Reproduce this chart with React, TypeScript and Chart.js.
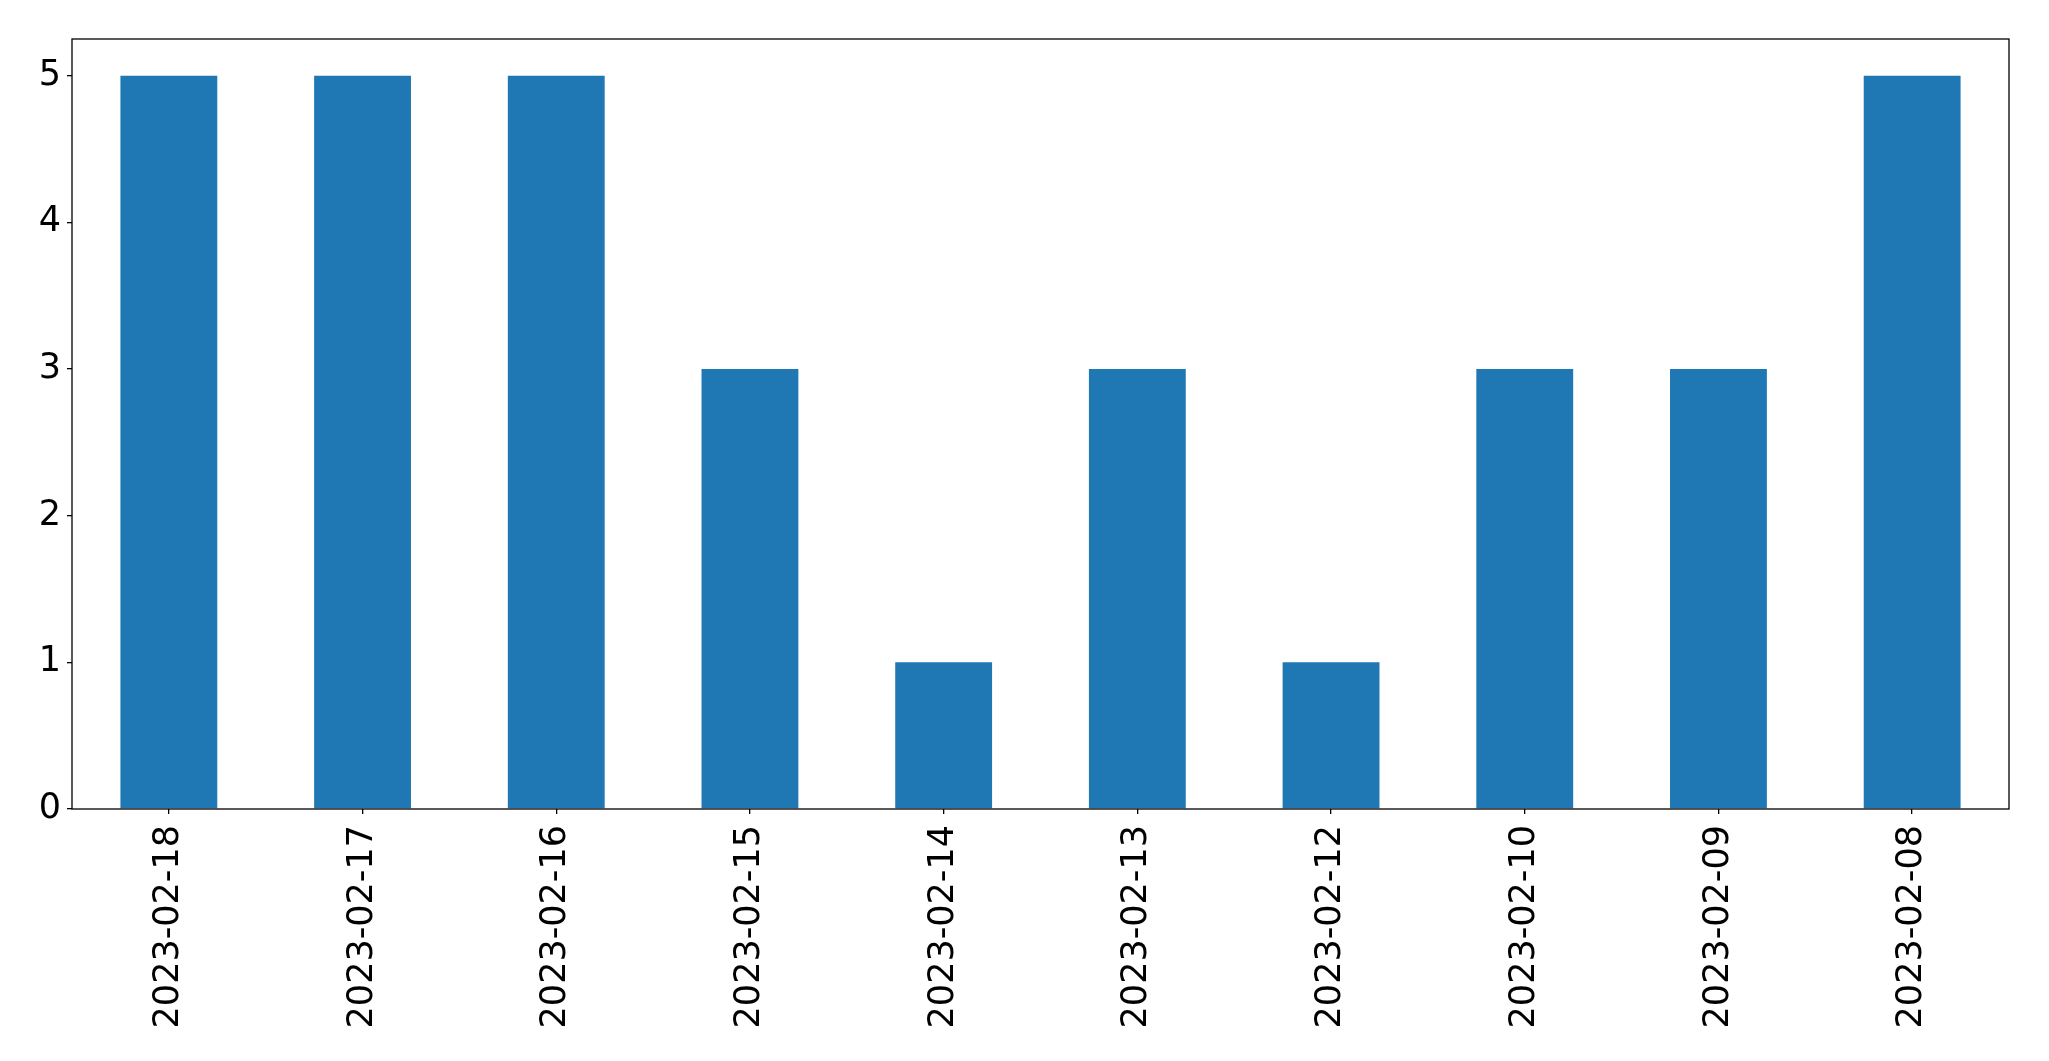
import React, { useEffect, useRef } from "react";
import { Chart, registerables } from "chart.js";

Chart.register(...registerables);

const categories = [
  "2023-02-18",
  "2023-02-17",
  "2023-02-16",
  "2023-02-15",
  "2023-02-14",
  "2023-02-13",
  "2023-02-12",
  "2023-02-10",
  "2023-02-09",
  "2023-02-08",
];
const counts = [5, 5, 5, 3, 1, 3, 1, 3, 3, 5];
const yTicks = [0, 1, 2, 3, 4, 5];

const frame = {
  id: "frame",
  afterDraw(chart: any) {
    const { ctx, chartArea } = chart;
    ctx.save();
    ctx.strokeStyle = "#000";
    ctx.lineWidth = 1.3;
    ctx.strokeRect(chartArea.left, chartArea.top, chartArea.right - chartArea.left, chartArea.bottom - chartArea.top);
    ctx.restore();
  },
};

export default function App() {
  const ref = useRef<HTMLCanvasElement | null>(null);
  useEffect(() => {
    if (!ref.current) return;
    const font = { family: "'DejaVu Sans', sans-serif", size: 35 };
    const chart = new Chart(ref.current, {
      type: "bar",
      data: {
        labels: categories,
        datasets: [
          {
            data: counts,
            backgroundColor: "#1f77b4",
            barPercentage: 0.5,
            categoryPercentage: 1,
          },
        ],
      },
      options: {
        animation: false,
        responsive: false,
        maintainAspectRatio: false,
        layout: { padding: { top: 39, right: 40, left: 0, bottom: 0 } },
        plugins: { legend: { display: false }, tooltip: { enabled: false } },
        scales: {
          x: {
            offset: true,
            grid: { offset: false, drawOnChartArea: false, drawTicks: true, tickLength: 5, color: "#000", lineWidth: 1.3 },
            border: { display: false },
            ticks: { font, color: "#000", minRotation: 90, maxRotation: 90, padding: 11, autoSkip: false },
            afterFit(scale: any) {
              scale.height = 252;
            },
          },
          y: {
            min: 0,
            max: 5.25,
            grid: { drawOnChartArea: false, drawTicks: true, tickLength: 5, color: "#000", lineWidth: 1.3 },
            border: { display: false },
            ticks: { font, color: "#000", stepSize: 1, padding: 6, includeBounds: false } as any,
            afterBuildTicks(scale: any) {
              scale.ticks = yTicks.map((v) => ({ value: v }));
            },
            afterFit(scale: any) {
              scale.width = 72;
            },
          },
        },
      },
      plugins: [frame],
    });
    return () => chart.destroy();
  }, []);
  return (
    <div style={{ position: "fixed", left: 0, top: 0, width: 2049, height: 1061, background: "#fff" }}>
      <canvas ref={ref} width={2049} height={1061} style={{ width: 2049, height: 1061 }} />
    </div>
  );
}
